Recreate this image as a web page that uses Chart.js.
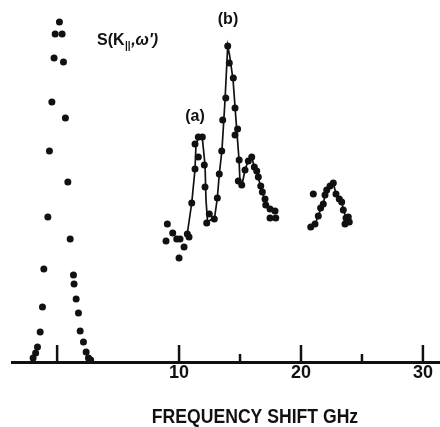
<!DOCTYPE html>
<html lang="en">
<head>
<meta charset="UTF-8" />
<title>S(K||, w') frequency shift</title>
<style>
  html, body { margin: 0; padding: 0; background: #fff; }
  #wrap { width: 440px; height: 427px; }
</style>
</head>
<body>
<div id="wrap"><canvas id="spec" width="440" height="427"></canvas></div>
<script src="https://cdn.jsdelivr.net/npm/chart.js"></script>
<script>
  // central (elastic) peak: shift in GHz, intensity in arbitrary units
  const centralShift = [0.19, -0.16, 0.41, -0.25, 0.52, -0.43, 0.68, -0.63, 0.88, -0.76, 1.07, -1.09, 1.34, 1.39, 1.56,
    -1.20, 1.75, -1.39, 1.89, 2.16, -1.61, -1.76, -1.97, 2.38, 2.57, 2.75];
  const centralInt = [340, 328, 328, 304, 300, 260, 244, 211, 180, 145, 123, 93, 87, 78, 63,
    55, 49, 30, 31, 20, 15, 9, 4, 10, 4, 2];

  // measured points of the side bands
  const bandShift = [9.04, 9.48, 8.93, 9.81, 10.08, 10.41, 10.00, 10.68, 10.82, 11.04, 11.31, 11.31, 11.58, 11.91, 11.58,
    12.07, 12.13, 12.27, 12.48, 12.89, 13.14, 13.30, 13.50, 13.58, 13.83, 13.99, 14.12, 14.45, 14.59, 14.80,
    14.59, 14.93, 14.86, 15.14, 15.41, 15.68, 15.96, 16.17, 16.37, 16.50, 16.70, 16.83, 17.05, 17.11, 17.46,
    17.87, 17.46, 17.93,
    21.01, 20.80, 21.15, 21.42, 21.61, 21.83, 21.97, 22.11, 22.38, 22.65, 22.87, 23.14, 23.34, 23.47, 23.69,
    23.88, 23.96, 23.61];
  const bandInt = [138, 129, 121, 123, 123, 115, 104, 128, 125, 159, 193, 218, 225, 225, 205,
    197, 175, 139, 148, 143, 164, 188, 211, 242, 264, 316, 299, 284, 254, 233,
    227, 202, 181, 177, 192, 201, 205, 195, 191, 185, 176, 170, 163, 157, 153,
    151, 144, 144,
    168, 135, 138, 146, 154, 158, 167, 172, 176, 179, 168, 163, 160, 152, 144,
    145, 140, 138];

  // hand-drawn curves through the bands (a), (b) and the one near 22 GHz
  const curveAShift = [10.66, 11.04, 11.31, 11.39, 11.64, 11.89, 12.13, 12.21, 12.34, 12.70, 12.91, 13.14, 13.30, 13.52,
    13.77, 13.99, 14.14, 14.43, 14.67, 14.92, 15.00, 15.16, 15.41, 15.66, 15.96, 16.17, 16.48, 16.80, 17.05, 17.46, 17.87];
  const curveAInt = [127, 159, 193, 218, 225, 226, 197, 162, 140, 143, 144, 164, 188, 212,
    262, 316, 307, 282, 242, 202, 179, 177, 192, 201, 205, 195, 185, 171, 161, 153, 151];
  const curveBShift = [20.80, 21.15, 21.42, 21.64, 21.83, 21.97, 22.13, 22.38, 22.65, 22.87, 23.14, 23.36, 23.48, 23.69, 23.77];
  const curveBInt = [135, 138, 146, 154, 158, 167, 172, 176, 179, 168, 163, 159, 152, 144, 138];

  // axis ticks
  const tickValues = [0, 10, 15, 20, 25, 30];
  const labelledTicks = [10, 20, 30];
  const minorTicks = [15, 25];

  const ink = '#111';
  const sans = "'Liberation Sans', Arial, sans-serif";

  const toPoints = (xs, ys) => xs.map((x, i) => ({ x: x, y: ys[i] }));

  // upward tick marks sitting on the base line
  const tickMarks = {
    id: 'tickMarks',
    afterDraw(chart) {
      const { ctx, chartArea, scales } = chart;
      ctx.save();
      ctx.strokeStyle = ink;
      ctx.lineWidth = 2.5;
      tickValues.forEach(v => {
        const x = scales.x.getPixelForValue(v);
        const len = minorTicks.includes(v) ? 8 : 17;
        ctx.beginPath();
        ctx.moveTo(x, chartArea.bottom);
        ctx.lineTo(x, chartArea.bottom - len);
        ctx.stroke();
      });
      ctx.restore();
    }
  };

  // text labels: curve name, peak names and the axis title (narrowed like the original lettering)
  const labels = {
    id: 'labels',
    afterDraw(chart) {
      const { ctx } = chart;
      ctx.save();
      ctx.fillStyle = ink;
      ctx.textBaseline = 'alphabetic';
      ctx.font = 'bold 16px ' + sans;
      let x = 97;
      ctx.fillText('S(K', x, 45);
      x += ctx.measureText('S(K').width;
      ctx.font = 'bold 10px ' + sans;
      ctx.fillText('||', x + 0.5, 49);
      x += ctx.measureText('||').width + 1;
      ctx.font = 'bold italic 16px ' + sans;
      ctx.fillText(',\u03c9\u2032)', x, 45);

      ctx.font = 'bold 16px ' + sans;
      ctx.textAlign = 'center';
      ctx.textBaseline = 'middle';
      ctx.fillText('(a)', 195, 117);
      ctx.fillText('(b)', 228, 20);

      ctx.translate(255, 417);
      ctx.scale(0.88, 1);
      ctx.font = 'bold 20px ' + sans;
      ctx.fillText('FREQUENCY SHIFT GHz', 0, 0);
      ctx.restore();
    }
  };

  new Chart(document.getElementById('spec'), {
    type: 'scatter',
    data: {
      datasets: [
        { data: toPoints(centralShift, centralInt), pointRadius: 3.5, backgroundColor: ink, borderWidth: 0 },
        { data: toPoints(bandShift, bandInt), pointRadius: 3.5, backgroundColor: ink, borderWidth: 0 },
        { data: toPoints(curveAShift, curveAInt), showLine: true, pointRadius: 0, borderColor: ink, borderWidth: 1.7 },
        { data: toPoints(curveBShift, curveBInt), showLine: true, pointRadius: 0, borderColor: ink, borderWidth: 1.7 }
      ]
    },
    options: {
      responsive: false,
      animation: false,
      layout: { autoPadding: false, padding: { left: 12, right: 0, top: 12, bottom: 42 } },
      plugins: { legend: { display: false }, tooltip: { enabled: false } },
      scales: {
        x: {
          type: 'linear',
          min: -3.7,
          max: 31.4,
          afterBuildTicks: axis => { axis.ticks = tickValues.map(v => ({ value: v })); },
          border: { display: true, color: ink, width: 3 },
          grid: { drawOnChartArea: false, drawTicks: false, color: 'rgba(0,0,0,0)' },
          ticks: {
            autoSkip: false,
            maxRotation: 0,
            padding: 2.5,
            color: ink,
            font: { family: sans, size: 18, weight: 'bold', lineHeight: 1 },
            callback: v => labelledTicks.includes(v) ? String(v) : ''
          }
        },
        y: { display: false, min: 0, max: 350 }
      }
    },
    plugins: [tickMarks, labels]
  });
</script>
</body>
</html>
